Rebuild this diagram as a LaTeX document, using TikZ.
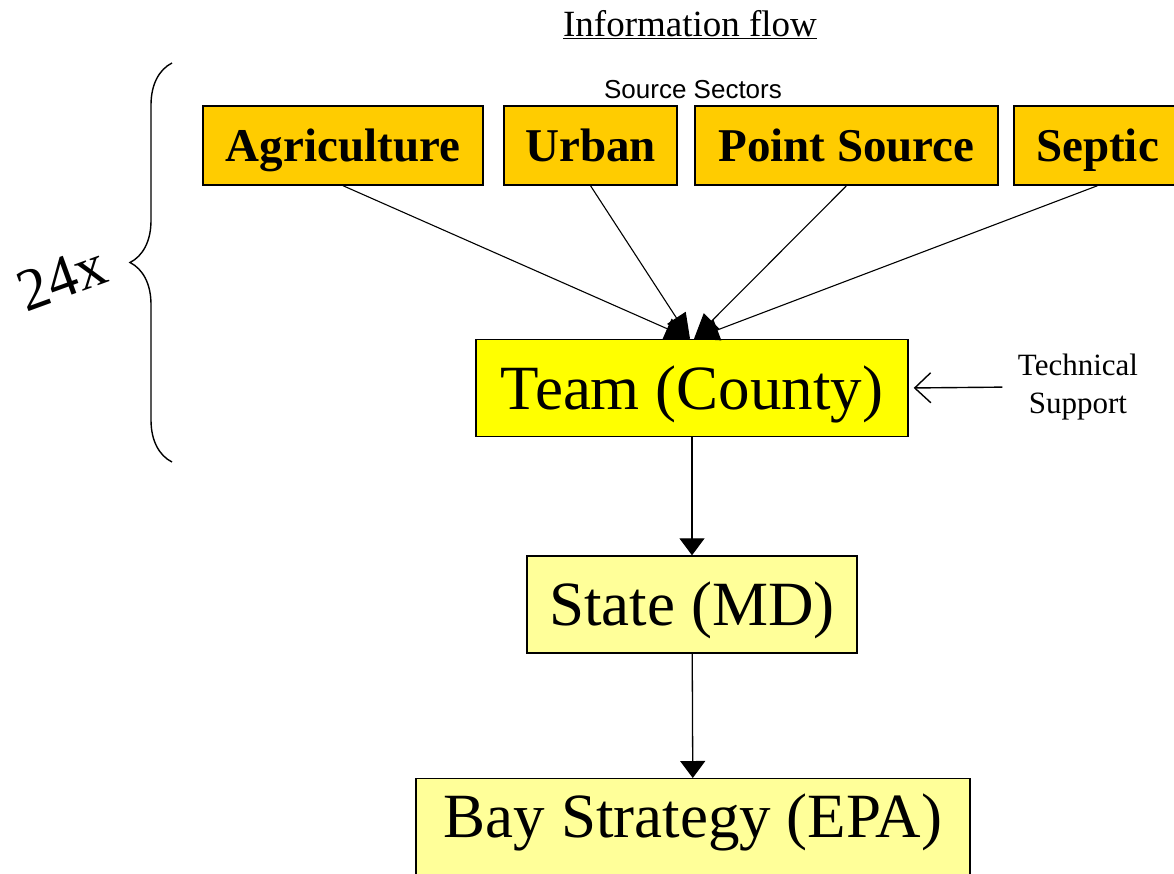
\documentclass[tikz,border=0pt]{standalone}
\usepackage{fontspec}
\setmainfont{Liberation Serif}
\setsansfont{Liberation Sans}
\usepackage{tikz}
\usetikzlibrary{positioning,arrows.meta,decorations.pathreplacing}

\definecolor{sector}{HTML}{FFCC00}
\definecolor{county}{HTML}{FFFF00}
\definecolor{paleyel}{HTML}{FFFF99}

\begin{document}
\begin{tikzpicture}[
  x=1pt, y=-1pt,
  sectbox/.style={rectangle, draw=black, line width=1.4pt, fill=sector, inner sep=0pt,
                  minimum height=79pt, text height=32pt, text depth=0pt,
                  font=\fontsize{47}{50}\selectfont\bfseries},
  bigbox/.style={rectangle, draw=black, line width=1.4pt, inner sep=0pt,
                 minimum height=97pt, text height=42pt, text depth=0pt,
                 font=\fontsize{63}{68}\selectfont},
  arrow/.style={-{Triangle[length=17pt,width=25pt]}, line width=1.3pt},
  inarrow/.style={-{Triangle[length=25pt,width=22pt]}, line width=1.1pt}
]
\useasboundingbox (0,0) rectangle (1174,873);
\clip (0,0) rectangle (1174,873);

% Title
\node (title) at (690,25) {\fontsize{37}{40}\selectfont\underline{Information flow}};
\node[font=\sffamily\fontsize{26}{28}\selectfont] (sectors) at (693,90) {Source Sectors};

% Source sectors
\node[sectbox, minimum width=280pt] (agri) at (343,145.5) {Agriculture};
\node[sectbox, minimum width=173pt] (urban) at (590.5,145.5) {Urban};
\node[sectbox, minimum width=303pt] (point) at (846.5,145.5) {Point Source};
\node[sectbox, minimum width=167pt] (septic) at (1097.5,145.5) {Septic};

% Levels
\node[bigbox, fill=county, minimum width=432pt] (team) at (692,388) {Team (County)};
\node[bigbox, fill=paleyel, minimum width=330pt] (state) at (692,604.5) {State (MD)};
\node[bigbox, fill=paleyel, minimum width=554pt, minimum height=0pt,
      text height=59pt, text depth=40pt, anchor=north] (bay) at (693,778) {Bay Strategy (EPA)};

% Technical support
\node[align=center, font=\fontsize{31}{38}\selectfont] (tech) at (1078,387) {Technical\\Support};

% Repetition brace
\draw[line width=1.4pt, decorate, decoration={brace, amplitude=42pt}] (172,462) -- (172,63);
\node[rotate=20, font=\fontsize{60}{60}\selectfont] (times) at (62,278) {24x};

% Arrows
\draw[inarrow] (agri.south) -- ([xshift=-2pt]team.north);
\draw[inarrow] (urban.south) -- ([xshift=-2pt]team.north);
\draw[inarrow] (point.south) -- ([xshift=2pt]team.north);
\draw[inarrow] (septic.south) -- ([xshift=2pt]team.north);
\draw[arrow] (team) -- (state);
\draw[arrow] (state) -- (bay);
\draw[-{Straight Barb[length=16pt,width=30pt]}, line width=1.4pt, shorten <=12pt, shorten >=5pt] (tech.west) -- (team.east);

\end{tikzpicture}
\end{document}
